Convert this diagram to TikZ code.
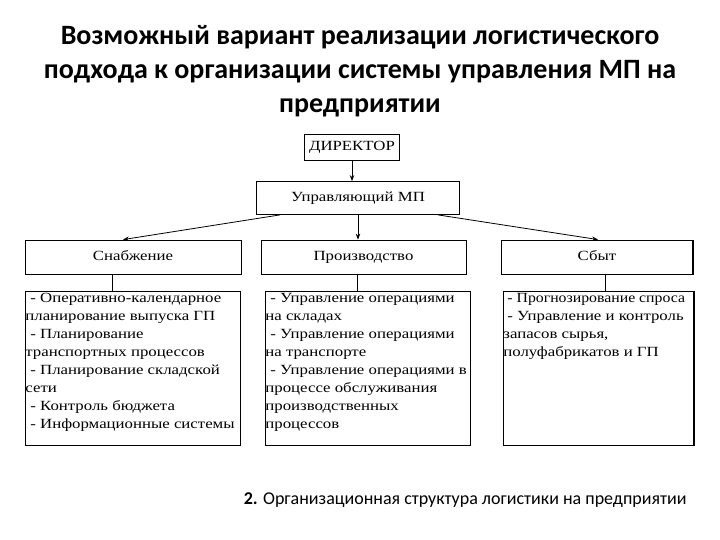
\documentclass[tikz,border=0pt]{standalone}
\usepackage{fontspec}
\usepackage{graphicx}
\setmainfont{Liberation Serif}
\newfontfamily\titlefont{Carlito}
\newfontfamily\boxfont[FakeStretch=1.2]{Liberation Serif}
\usetikzlibrary{positioning,arrows.meta}

\begin{document}
\begin{tikzpicture}[
  x=1pt, y=-1pt,
  >={Stealth[length=6pt,width=4.5pt]},
  unitbox/.style={draw=black, thick, inner sep=0pt, text height=10pt, text depth=3pt, font=\boxfont\fontsize{14}{16}\selectfont},
  taskbox/.style={draw=black, thick, anchor=north west, inner sep=0pt, font=\boxfont\fontsize{14}{18}\selectfont},
  arr/.style={->, thick},
  link/.style={thick}
]
  \useasboundingbox (0,0) rectangle (720,540);

  % title
  \node[font=\titlefont\bfseries\fontsize{28}{34}\selectfont, align=center] (title) at (360,71)
    {Возможный вариант реализации логистического\\подхода к организации системы управления МП на\\предприятии};

  % management
  \node[unitbox, minimum width=95pt, minimum height=26pt] (dir) at (352,147) {ДИРЕКТОР};
  \node[unitbox, minimum width=203pt, minimum height=33pt] (upr) at (358,198) {Управляющий МП};

  % departments
  \node[unitbox, minimum width=216pt, minimum height=34pt] (snab) at (133,257) {Снабжение};
  \node[unitbox, minimum width=205pt, minimum height=34pt] (proizv) at (363.5,257) {Производство};
  \node[unitbox, minimum width=192pt, minimum height=34pt] (sbyt) at (597,257) {Сбыт};

  % tasks
  \node[taskbox] (snabt) at (25,291) {\parbox[c][154pt][t]{215pt}{\raggedright\vspace{2pt}%
    \hspace{5pt}- Оперативно-календарное\\планирование выпуска ГП\\
    \hspace{5pt}- Планирование\\транспортных процессов\\
    \hspace{5pt}- Планирование складской\\сети\\
    \hspace{5pt}- Контроль бюджета\\
    \hspace{5pt}- Информационные системы}};
  \node[taskbox] (proizvt) at (265,291) {\parbox[c][154pt][t]{205pt}{\raggedright\vspace{2pt}%
    \hspace{5pt}- Управление операциями\\на складах\\
    \hspace{5pt}- Управление операциями\\на транспорте\\
    \hspace{5pt}- Управление операциями в\\процессе обслуживания\\производственных\\процессов}};
  \node[taskbox] (sbytt) at (503,291) {\parbox[c][154pt][t]{190pt}{\raggedright\vspace{2pt}%
    \hspace{4pt}\scalebox{0.94}[1]{- Прогнозирование спроса}\\
    \hspace{4pt}- Управление и контроль\\запасов сырья,\\полуфабрикатов и ГП}};
  \draw[line width=2pt] (sbyt.north east) -- (sbyt.south east);
  \draw[line width=2pt] (sbytt.north east) -- (sbytt.south east);

  % arrows
  \draw[arr] (dir) -- (dir |- upr.north);
  \draw[arr] ([xshift=-78pt]upr.south) -- ([xshift=-10pt]snab.north);
  \draw[arr] (upr.south) -- (upr.south |- proizv.north);
  \draw[arr] ([xshift=80pt]upr.south) -- ([xshift=1pt]sbyt.north);
  \draw[link] ([xshift=-21pt]snab.south) -- ([xshift=-21pt]snab.south |- snabt.north);
  \draw[link] ([xshift=-6.5pt]proizv.south) -- ([xshift=-6.5pt]proizv.south |- proizvt.north);
  \draw[link] ([xshift=8pt]sbyt.south) -- ([xshift=8pt]sbyt.south |- sbytt.north);

  % caption
  \node[font=\titlefont\fontsize{18}{22}\selectfont, anchor=east] (caption) at (690,500)
    {\textbf{2.} Организационная структура логистики на предприятии};
\end{tikzpicture}
\end{document}
